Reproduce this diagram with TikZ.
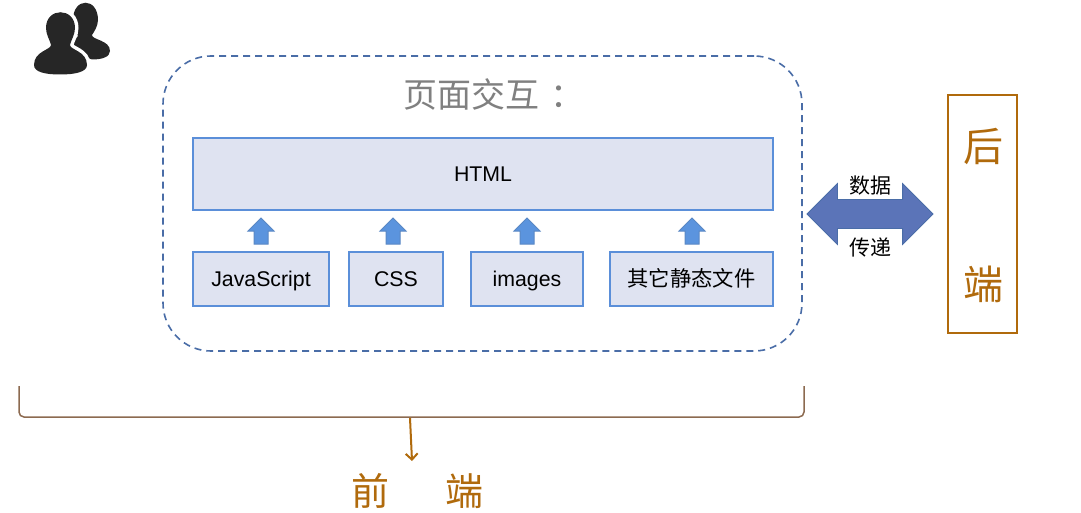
\documentclass[tikz,border=0pt]{standalone}
\usepackage{fontspec}
\usepackage{xcolor}
\setmainfont{Liberation Sans}
\newfontfamily\cjk{Noto Sans CJK SC}
\definecolor{dashblue}{HTML}{4A6DA7}
\definecolor{boxblue}{HTML}{5B8FD9}
\definecolor{boxfill}{HTML}{DFE3F1}
\definecolor{arrowfill}{HTML}{5B94DE}
\definecolor{arrowdraw}{HTML}{5A88C4}
\definecolor{bigarrow}{HTML}{5B74B8}
\definecolor{brownmain}{HTML}{B06A0C}
\definecolor{bracket}{HTML}{8C6A50}
\definecolor{icondark}{HTML}{262626}
\usetikzlibrary{shapes.arrows, arrows.meta, positioning}

\begin{document}
\begin{tikzpicture}[
        x=1pt, y=-1pt,
        font=\fontsize{21.3}{25}\selectfont,
        layer/.style={
            rectangle,
            draw=boxblue,
            line width=1.6pt,
            fill=boxfill,
            inner sep=0pt,
            text height=16pt,
            text depth=0.6pt,
            minimum height=54pt
        },
        uparrow/.style={
            single arrow,
            shape border rotate=90,
            draw=arrowdraw,
            fill=arrowfill,
            line width=1pt,
            inner sep=6.5pt,
            minimum width=25pt,
            minimum height=26pt,
            single arrow head extend=6pt
        },
        backend/.style={font=\fontsize{40}{48}\selectfont\cjk, text=brownmain, inner sep=0pt}
    ]
    \useasboundingbox (0, 0) rectangle (1081, 513);

    % User icon
    \fill[icondark] (73, 20) .. controls (73, -3) and (98, -3) .. (98, 20) .. controls (98, 26) and (94, 32) .. (92, 35)
        .. controls (92, 40) and (110, 40) .. (110, 51) .. controls (110, 57) and (102, 59.5) .. (92, 59.5)
        -- (66, 50) -- (78, 36) .. controls (75, 32) and (73, 26) .. (73, 20) -- cycle;
    \fill[icondark, preaction={draw=white, line width=7pt}] (46, 28) .. controls (46, 7) and (75, 7) .. (75, 28)
        .. controls (75, 35) and (71, 40) .. (70, 45) .. controls (70, 50) and (87, 51) .. (87, 65)
        .. controls (87, 72) and (75, 74.5) .. (60, 74.5) .. controls (45, 74.5) and (34, 72) .. (34, 65)
        .. controls (34, 51) and (51, 50) .. (51, 45) .. controls (50, 40) and (46, 35) .. (46, 28) -- cycle;

    % Page interaction frame
    \node[draw=dashblue, dash pattern=on 7pt off 5pt, line width=1.6pt, rounded corners=48pt, minimum width=639pt, minimum height=295pt, inner sep=0pt] (frame) at (482.5, 203.5) {};
    \node[font=\fontsize{34}{40}\selectfont\cjk, text=black!50] (title) at (494, 94) {页面交互\hspace{0.35em}：};

    % Layers
    \node[layer, minimum width=580pt, minimum height=72pt] (html) at (483, 174) {HTML};
    \node[layer, minimum width=136pt] (js) at (261, 279) {JavaScript};
    \node[layer, minimum width=94pt] (css) at (396, 279) {CSS};
    \node[layer, minimum width=112pt] (images) at (527, 279) {images};
    \node[layer, minimum width=163pt, font=\fontsize{21.3}{25}\selectfont\cjk] (static) at (691.5, 279) {其它静态文件};

    % Small arrows
    \foreach \name/\x in {js/261, css/393, images/527, static/692} {
        \node[uparrow] (up\name) at (\x, 234.5) {};
    }

    % Data exchange
    \node[double arrow, draw=dashblue, fill=bigarrow, line width=0.8pt, inner sep=14pt, minimum width=60pt, minimum height=126pt, double arrow head extend=16pt] (exchange) at (870, 214) {};
    \node[font=\fontsize{21}{25}\selectfont\cjk] (data) at (870, 186) {数据};
    \node[font=\fontsize{21}{25}\selectfont\cjk] (transfer) at (870, 247) {传递};

    % Back end
    \node[draw=brownmain, line width=1.6pt, minimum width=69pt, minimum height=238pt, inner sep=0pt] (backbox) at (982.5, 214) {};
    \node[backend] (hou) at (983, 147) {后};
    \node[backend] (duan) at (983, 284) {端};

    % Front end
    \draw[bracket, line width=1.5pt, rounded corners=5pt] (19, 386) -- (19, 417) -- (804, 417) -- (804, 386);
    \coordinate (braceend) at (410, 418);
    \node[font=\fontsize{38}{46}\selectfont\cjk, text=brownmain, inner sep=0pt] (front) at (417.5, 491) {前\hspace{1.45em}端};
    \draw[-{Straight Barb[length=6pt, width=12pt]}, brownmain, line width=2pt] (braceend) -- (412, 461);

\end{tikzpicture}
\end{document}
